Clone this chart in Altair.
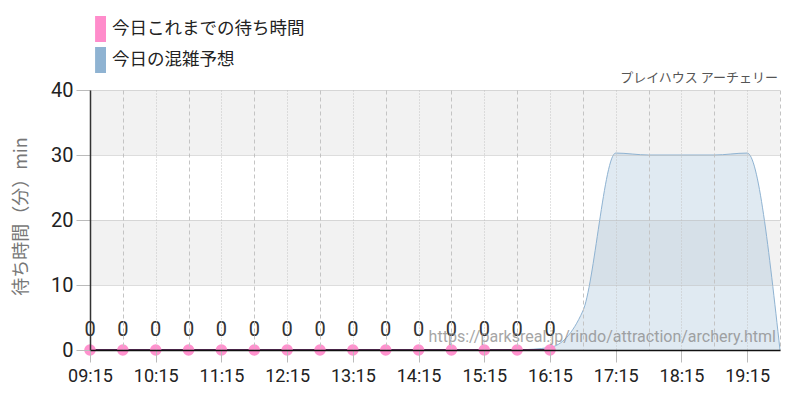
import altair as alt
import pandas as pd

# ---- data ----
actual_times = ["09:15", "09:45", "10:15", "10:45", "11:15", "11:45", "12:15", "12:45",
                "13:15", "13:45", "14:15", "14:45", "15:15", "15:45", "16:15"]
actual_waits = [0, 0, 0, 0, 0, 0, 0, 0, 0, 0, 0, 0, 0, 0, 0]

forecast_times = ["15:45", "16:15", "16:45", "17:15", "17:45", "18:15", "18:45", "19:15", "19:45"]
forecast_waits = [0, 0.4, 6, 30.3, 30, 30, 30, 30.3, 0]

band_from = [10, 30]
band_to = [20, 40]

x_tick_times = ["09:15", "09:45", "10:15", "10:45", "11:15", "11:45", "12:15", "12:45",
                "13:15", "13:45", "14:15", "14:45", "15:15", "15:45", "16:15", "16:45",
                "17:15", "17:45", "18:15", "18:45", "19:15", "19:45"]
y_ticks = [0, 10, 20, 30, 40]

SER_A = "今日これまでの待ち時間"
SER_F = "今日の混雑予想"
TITLE = "プレイハウス アーチェリー"
Y_TITLE = "待ち時間（分）min"
URL = "https://parksreal.jp/rindo/attraction/archery.html"


def to_min(t):
    h, m = t.split(":")
    return int(h) * 60 + int(m)


actual = pd.DataFrame({
    "t": [to_min(t) for t in actual_times],
    "v": actual_waits,
    "s": SER_A,
    "label": [str(v) for v in actual_waits],
})
forecast = pd.DataFrame({
    "t": [to_min(t) for t in forecast_times],
    "v": forecast_waits,
    "s": SER_F,
})
bands = pd.DataFrame({"y0": band_from, "y1": band_to})
wm = pd.DataFrame({"u": [URL]})
ttl = pd.DataFrame({"u": [TITLE]})

NUM = "Roboto, sans-serif"
JP = "'Noto Sans CJK JP', sans-serif"

x_vals = [to_min(t) for t in x_tick_times]
x_scale = alt.Scale(domain=[x_vals[0], x_vals[-1]], nice=False, zero=False)
y_scale = alt.Scale(domain=[0, 40], nice=False)
color_scale = alt.Scale(domain=[SER_A, SER_F], range=["#ff8ccb", "#8fb3d2"])

is_hour = "datum.value % 60 == 15"
x_axis = alt.Axis(
    values=x_vals, title=None, grid=True, zindex=1,
    gridColor="#c4c4c4",
    gridDash={"condition": {"test": is_hour, "value": [1, 2]}, "value": [4, 3]},
    labelExpr="datum.value % 60 == 15 ? timeFormat(datetime(2020, 0, 1, floor(datum.value / 60), datum.value % 60), '%H:%M') : ''",
    tickOpacity={"condition": {"test": is_hour, "value": 1}, "value": 0},
    labelOverlap=False, labelFlush=False,
)
y_axis = alt.Axis(
    values=y_ticks, title=Y_TITLE, grid=True, zindex=1,
    titleX=-69, titleY=126, titleAngle=270, titleAlign="center", titleBaseline="middle",
)

X = alt.X("t:Q", scale=x_scale, axis=x_axis)
Y = alt.Y("v:Q", scale=y_scale, axis=y_axis)

legend = alt.Legend(
    title=None, orient="none", legendX=-10, legendY=-74, direction="vertical",
    symbolType="M0.16,-1L1,-1L1,1L0.16,1Z", symbolSize=676,
    symbolOpacity=1, symbolStrokeWidth=0,
    labelFont=JP, labelFontSize=17.5, labelColor="#222", labelOffset=6, labelLimit=400,
    rowPadding=5,
)
C = alt.Color("s:N", scale=color_scale, legend=legend)

band_layer = alt.Chart(bands).mark_rect(color="#f2f2f2").encode(
    y=alt.Y("y0:Q", scale=y_scale, axis=y_axis), y2="y1:Q"
)

area_layer = alt.Chart(forecast).mark_area(
    interpolate="monotone", fillOpacity=0.28,
    line={"strokeWidth": 1, "color": "#8fb3d2"},
).encode(x=X, y=Y, color=C)

line_layer = alt.Chart(actual).mark_line(color="#5a2a58", strokeWidth=2).encode(x=X, y=Y)

point_layer = alt.Chart(actual).mark_circle(size=135, opacity=0.95).encode(x=X, y=Y, color=C)

text_layer = alt.Chart(actual).mark_text(
    dy=-20, font=NUM, fontSize=20, color="#333"
).encode(x=X, y=Y, text="label:N")

wm_layer = alt.Chart(wm).mark_text(
    align="right", baseline="middle", font="Roboto", fontSize=16, color="#888", opacity=0.75
).encode(x=alt.value(686), y=alt.value(247), text="u:N")

title_layer = alt.Chart(ttl).mark_text(
    align="right", baseline="middle", font=JP, fontSize=13, color="#555"
).encode(x=alt.value(688), y=alt.value(-12), text="u:N")

chart = alt.layer(
    band_layer, area_layer, line_layer, point_layer, text_layer, wm_layer, title_layer
).properties(
    width=690, height=260,
    autosize=alt.AutoSizeParams(type="none"),
    padding={"left": 82, "top": 82, "right": 12, "bottom": 42},
).configure_view(stroke=None).configure_axisY(
    domainColor="#333", domainWidth=1.5, tickColor="#bbb", tickSize=14, tickWidth=1,
    labelFont=NUM, labelFontSize=20, labelColor="#222", labelPadding=3,
    gridColor="#bbb", gridDash=[1, 1],
    titleFont=JP, titleFontSize=18, titleFontWeight="normal", titleColor="#777",
).configure_axisX(
    domainColor="#111", domainWidth=1.5, tickColor="#bbb", tickSize=12, tickWidth=1,
    labelFont=NUM, labelFontSize=18, labelColor="#222", labelPadding=5,
)

chart.save("out.html", embed_options={"renderer": "svg", "actions": False})
